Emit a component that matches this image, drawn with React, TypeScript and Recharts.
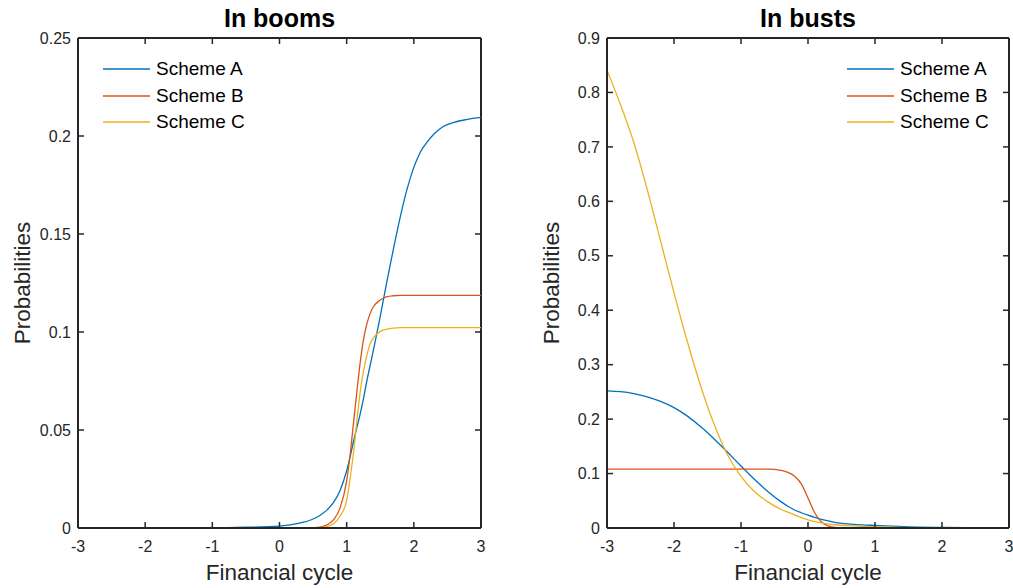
import React from 'react';
import { LineChart, Line, XAxis, YAxis, Legend, Label, ReferenceLine } from 'recharts';

// ---------- In booms ----------
const boomX = [-3, -2, -1, -0.5, 0, 0.3, 0.5, 0.6, 0.7, 0.8, 0.9, 1.0, 1.05, 1.1, 1.15, 1.2, 1.25, 1.3, 1.35, 1.4, 1.5, 1.6, 1.7, 1.8, 1.9, 2.0, 2.1, 2.2, 2.3, 2.4, 2.6, 2.8, 3.0];
const boomA = [0, 0, 0.0001, 0.0004, 0.001, 0.0025, 0.0046, 0.0064, 0.009, 0.0128, 0.019, 0.0292, 0.036, 0.044, 0.051, 0.058, 0.066, 0.075, 0.083, 0.091, 0.108, 0.126, 0.143, 0.159, 0.173, 0.184, 0.192, 0.197, 0.201, 0.204, 0.207, 0.2085, 0.2095];
const boomB = [0, 0, 0, 0, 0, 0, 0.0002, 0.0005, 0.0015, 0.004, 0.010, 0.024, 0.037, 0.053, 0.069, 0.084, 0.096, 0.104, 0.1095, 0.113, 0.1163, 0.118, 0.1185, 0.1187, 0.1187, 0.1187, 0.1187, 0.1187, 0.1187, 0.1187, 0.1187, 0.1187, 0.1187];
const boomC = [0, 0, 0, 0, 0, 0, 0, 0.0002, 0.0008, 0.002, 0.006, 0.014, 0.025, 0.038, 0.054, 0.069, 0.080, 0.088, 0.094, 0.097, 0.1003, 0.1015, 0.102, 0.1022, 0.1022, 0.1022, 0.1022, 0.1022, 0.1022, 0.1022, 0.1022, 0.1022, 0.1022];

// ---------- In busts ----------
const bustX = [-3, -2.8, -2.6, -2.4, -2.2, -2.0, -1.8, -1.6, -1.4, -1.2, -1.0, -0.8, -0.6, -0.4, -0.3, -0.2, -0.1, 0, 0.1, 0.2, 0.3, 0.4, 0.6, 0.8, 1.0, 1.5, 2.0, 2.5, 3.0];
const bustA = [0.252, 0.2505, 0.247, 0.241, 0.2325, 0.221, 0.2055, 0.186, 0.1635, 0.139, 0.114, 0.0895, 0.067, 0.048, 0.040, 0.033, 0.028, 0.0235, 0.0195, 0.016, 0.013, 0.0105, 0.0075, 0.0058, 0.0047, 0.002, 0.001, 0.0003, 0];
const bustB = [0.108, 0.108, 0.108, 0.108, 0.108, 0.108, 0.108, 0.108, 0.108, 0.108, 0.108, 0.108, 0.108, 0.106, 0.102, 0.095, 0.081, 0.055, 0.028, 0.011, 0.004, 0.001, 0, 0, 0, 0, 0, 0, 0];
const bustC = [0.841, 0.778, 0.708, 0.622, 0.527, 0.432, 0.342, 0.260, 0.190, 0.134, 0.095, 0.067, 0.048, 0.034, 0.029, 0.024, 0.019, 0.015, 0.0118, 0.0093, 0.0075, 0.006, 0.0042, 0.0031, 0.0024, 0.0008, 0.0002, 0, 0];

const xTicks = [-3, -2, -1, 0, 1, 2, 3];
const boomYTicks = [0, 0.05, 0.1, 0.15, 0.2, 0.25];
const bustYTicks = [0, 0.1, 0.2, 0.3, 0.4, 0.5, 0.6, 0.7, 0.8, 0.9];
const seriesNames = ['Scheme A', 'Scheme B', 'Scheme C'];
const seriesKeys = ['A', 'B', 'C'];
const COLORS = ['#0072BD', '#D95319', '#EDB120'];

const FONT = '"Liberation Sans", Arial, Helvetica, sans-serif';
const AX = '#262626';

function build(x: number[], a: number[], b: number[], c: number[]) {
  return x.map((v, i) => ({ x: v, A: a[i], B: b[i], C: c[i] }));
}

const boomData = build(boomX, boomA, boomB, boomC);
const bustData = build(bustX, bustA, bustB, bustC);

const LegendBox = () => (
  <div style={{ fontFamily: FONT, fontSize: 19, color: '#000' }}>
    {seriesNames.map((n, i) => (
      <div key={n} style={{ display: 'flex', alignItems: 'center', height: 26.4, whiteSpace: 'nowrap' }}>
        <svg width={47} height={4} style={{ marginRight: 6, display: 'block' }}>
          <line x1={0} x2={47} y1={2} y2={2} stroke={COLORS[i]} strokeWidth={1.3} />
        </svg>
        <span style={{ lineHeight: '26px' }}>{n}</span>
      </div>
    ))}
  </div>
);

type PanelProps = {
  left: number;
  width: number;
  data: any[];
  yMax: number;
  yTicks: number[];
  title: string;
  marginRight: number;
  yAxisWidth: number;
  legendLeft: number;
};

const PLOT_TOP = 38;
const PLOT_BOTTOM = 528;
const TICK_LEN = 6;

const Panel = ({ left, width, data, yMax, yTicks, title, marginRight, yAxisWidth, legendLeft }: PanelProps) => {
  const height = 588;
  const plotLeft = yAxisWidth;
  const plotRight = width - marginRight;
  const axisLine = { stroke: AX, strokeWidth: 2 };

  const XTick = (p: any) => {
    const { x, payload } = p;
    return (
      <g>
        <line x1={x} x2={x} y1={PLOT_BOTTOM} y2={PLOT_BOTTOM - TICK_LEN} stroke={AX} strokeWidth={1.5} />
        <line x1={x} x2={x} y1={PLOT_TOP} y2={PLOT_TOP + TICK_LEN} stroke={AX} strokeWidth={1.5} />
        <text x={x} y={PLOT_BOTTOM + 23.5} textAnchor="middle" fontSize={16} fill={AX} fontFamily={FONT}>
          {String(payload.value)}
        </text>
      </g>
    );
  };

  const YTick = (p: any) => {
    const { y, payload } = p;
    return (
      <g>
        <line x1={plotLeft} x2={plotLeft + TICK_LEN} y1={y} y2={y} stroke={AX} strokeWidth={1.5} />
        <line x1={plotRight} x2={plotRight - TICK_LEN} y1={y} y2={y} stroke={AX} strokeWidth={1.5} />
        <text x={plotLeft - 7} y={y} dy="0.355em" textAnchor="end" fontSize={16} fill={AX} fontFamily={FONT}>
          {String(payload.value)}
        </text>
      </g>
    );
  };

  return (
    <div style={{ position: 'absolute', left, top: 0 }}>
      <LineChart
        width={width}
        height={height}
        data={data}
        margin={{ top: PLOT_TOP, right: marginRight, bottom: 0, left: 0 }}
        style={{ fontFamily: FONT }}
      >
        <XAxis
          type="number"
          dataKey="x"
          domain={[-3, 3]}
          ticks={xTicks}
          allowDataOverflow
          height={height - PLOT_BOTTOM}
          axisLine={axisLine}
          tickLine={false}
          tick={<XTick />}
          interval={0}
        >
          <Label
            content={(p: any) => {
              const vb = p.viewBox || {};
              return (
                <text x={(vb.x ?? plotLeft) + (vb.width ?? 0) / 2} y={PLOT_BOTTOM + 52} textAnchor="middle" fontSize={22.5} fill={AX} fontFamily={FONT}>
                  Financial cycle
                </text>
              );
            }}
          />
          <Label
            content={(p: any) => {
              const vb = p.viewBox || {};
              return (
                <text x={(vb.x ?? plotLeft) + (vb.width ?? 0) / 2} y={27} textAnchor="middle" fontSize={25} fontWeight="bold" fill="#000" fontFamily={FONT}>
                  {title}
                </text>
              );
            }}
          />
        </XAxis>
        <YAxis
          type="number"
          domain={[0, yMax]}
          ticks={yTicks}
          allowDataOverflow
          width={yAxisWidth}
          axisLine={axisLine}
          tickLine={false}
          tick={<YTick />}
          interval={0}
        >
          <Label
            content={(p: any) => {
              const x = plotLeft - 48;
              const y = (PLOT_TOP + PLOT_BOTTOM) / 2;
              return (
                <text x={x} y={y} transform={`rotate(-90, ${x}, ${y})`} textAnchor="middle" fontSize={22.5} fill={AX} fontFamily={FONT}>
                  Probabilities
                </text>
              );
            }}
          />
        </YAxis>
        <ReferenceLine y={yMax} stroke={AX} strokeWidth={2} />
        <ReferenceLine x={3} stroke={AX} strokeWidth={2} />
        <Legend
          layout="horizontal"
          verticalAlign="middle"
          align="center"
          content={() => <LegendBox />}
          wrapperStyle={{ position: 'absolute', left: legendLeft, top: 56, width: 'auto', height: 'auto' }}
        />
        {seriesKeys.map((k, i) => (
          <Line
            key={k}
            type="monotone"
            dataKey={k}
            name={seriesNames[i]}
            stroke={COLORS[i]}
            strokeWidth={1.3}
            dot={false}
            activeDot={false}
            isAnimationActive={false}
          />
        ))}
      </LineChart>
    </div>
  );
};

export default function App() {
  return (
    <div style={{ position: 'absolute', left: 0, top: 0, width: 1013, height: 588, background: '#fff' }}>
      <Panel left={0} width={506} data={boomData} yMax={0.25} yTicks={boomYTicks} title="In booms" marginRight={25} yAxisWidth={78} legendLeft={103} />
      <Panel left={506} width={507} data={bustData} yMax={0.9} yTicks={bustYTicks} title="In busts" marginRight={4} yAxisWidth={101} legendLeft={341} />
    </div>
  );
}
